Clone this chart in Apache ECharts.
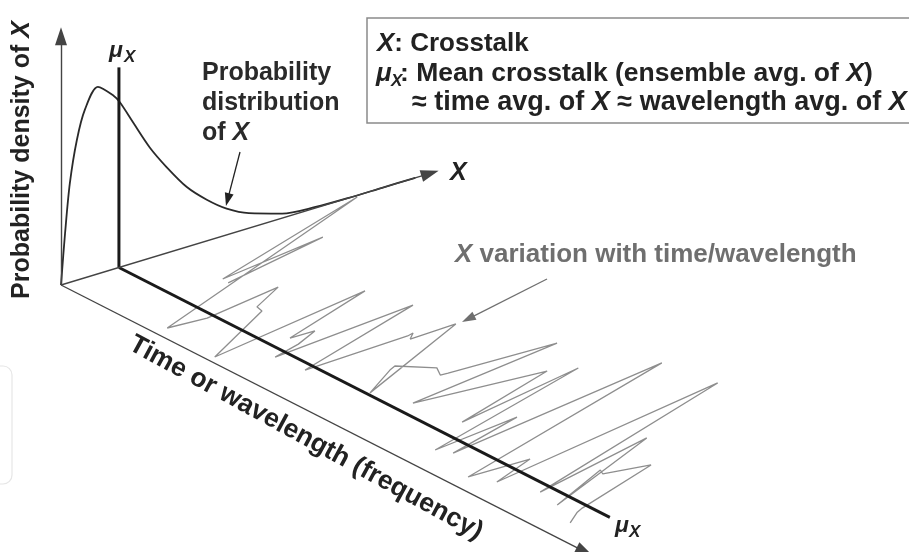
<!DOCTYPE html>
<html><head><meta charset="utf-8">
<script src="https://cdn.jsdelivr.net/npm/echarts@6/dist/echarts.min.js"></script>
<style>html,body{margin:0;padding:0;background:#fff}#c{width:909px;height:552px}</style>
</head><body><div id="c"></div>
<script>
// ---- data (normalised units: crosstalk X as fraction of X-axis length, time as fraction of time-axis length, density relative to peak) ----
const pdfCrosstalk = [0, 0.011, 0.024, 0.043, 0.065, 0.100, 0.141, 0.160, 0.196, 0.241, 0.286, 0.341, 0.395, 0.449, 0.509, 0.599, 0.690, 0.780, 0.870, 0.960];
const pdfDensity   = [0, 0.27, 0.53, 0.75, 0.90, 1.00, 0.93, 0.88, 0.75, 0.59, 0.46, 0.32, 0.22, 0.14, 0.08, 0.024, 0.005, 0, 0, 0];
const signalTime = [0.113,0.073,0.100,0.004,0.175,0.180,0.158,0.189,0.202,0.276,0.228,0.285,0.286,0.305,0.319,0.295,0.370,0.363,0.360,0.372,0.369,0.469,0.430,0.424,0.458,0.477,0.478,0.485,0.523,0.543,0.602,0.558,0.648,0.629,0.668,0.605,0.734,0.736,0.766,0.691,0.820,0.769,0.862,0.811,0.822,0.835,0.887,0.893,0.913];
const signalCrosstalk = [0.291,0.605,0.295,0.797,0.037,0.138,0.362,0.260,0.255,0.021,0.497,0.212,0.278,0.206,0.123,0.531,0.131,0.419,0.438,0.413,0.541,0.165,0.275,0.297,0.362,0.344,0.364,0.649,0.204,0.539,0.224,0.602,0.085,0.334,0.105,0.761,0.051,0.216,0.083,0.789,0.123,0.485,0.109,0.299,0.290,0.402,0.141,0.119,0.071];
const meanCrosstalk = 0.157;
const axisExtent = {density: 1.33, crosstalk: 1.0, time: 0.99, meanTop: 1.07, meanTime: 0.928};

// ---- oblique projection of (time, crosstalk, density) onto the page plane ----
const view = {ox: 61, oy: 285, tx: 529, ty: 269.3, xx: 369, xy: -111.7, hy: 187};
const proj = (t, x, d) => [view.ox + t * view.tx + x * view.xx, view.oy + t * view.ty + x * view.xy - d * view.hy];

const F = "'Liberation Sans', Arial, Helvetica, sans-serif";
const signalData = signalTime.map((t, i) => proj(t, signalCrosstalk[i], 0));
const pdfData = pdfCrosstalk.map((x, i) => proj(0, x, pdfDensity[i]));
const O = proj(0, 0, 0);
const mu0 = proj(0, meanCrosstalk, 0);

function arrow(a, b, color, width, size) {
  const ls = {color: color, width: width, type: 'solid'};
  return [{coord: a, symbol: 'none', lineStyle: ls}, {coord: b, symbol: 'triangle', symbolSize: size, lineStyle: ls, itemStyle: {color: color}}];
}

function txt(x, y, text, o) {
  o = o || {};
  const size = o.size || 25, color = o.color || '#222';
  return {
    type: 'text', x: x, y: y, rotation: o.rot || 0, z: 20,
    style: {
      text: text, fontSize: size, fontWeight: 'bold', fontStyle: o.italic ? 'italic' : 'normal', fontFamily: F,
      fill: color, align: o.align || 'left', verticalAlign: 'middle',
      rich: {i: {fontSize: size, fontWeight: 'bold', fontStyle: 'italic', fontFamily: F, fill: color}}
    }
  };
}

const chart = echarts.init(document.getElementById('c'), null, {renderer: 'canvas'});
chart.setOption({
  animation: false,
  backgroundColor: '#fff',
  grid: {left: 0, right: 0, top: 0, bottom: 0},
  xAxis: {type: 'value', min: 0, max: 909, show: false},
  yAxis: {type: 'value', min: 0, max: 552, inverse: true, show: false},
  series: [
    {type: 'line', data: signalData, symbol: 'none', silent: true, lineStyle: {color: '#8e8e8e', width: 1.3}, z: 2},
    {type: 'line', data: pdfData, symbol: 'none', silent: true, smooth: 0.3, lineStyle: {color: '#2a2a2a', width: 1.8}, z: 3},
    {type: 'line', data: [mu0, proj(0, meanCrosstalk, axisExtent.meanTop)], symbol: 'none', silent: true, lineStyle: {color: '#1a1a1a', width: 3}, z: 4},
    {type: 'line', data: [mu0, proj(axisExtent.meanTime, meanCrosstalk, 0)], symbol: 'none', silent: true, lineStyle: {color: '#1a1a1a', width: 3}, z: 4,
      markLine: {
        silent: true, animation: false, label: {show: false}, symbol: ['none', 'triangle'],
        lineStyle: {type: 'solid'},
        data: [
          arrow(O, proj(0, 0, axisExtent.density), '#444', 1.4, [12, 18]),
          arrow(O, proj(0, axisExtent.crosstalk, 0), '#444', 1.4, [12, 18]),
          arrow(O, proj(axisExtent.time, 0, 0), '#444', 1.4, [12, 18]),
          arrow([240, 152], [227.6, 199.7], '#222', 1.3, [9, 13]),
          arrow([547, 279], [468.2, 318.8], '#6f6f6f', 1.3, [9, 14])
        ]
      }
    }
  ],
  graphic: [
    {type: 'rect', z: 1, shape: {x: -30, y: 366, width: 42, height: 118, r: 9}, style: {fill: 'none', stroke: '#e6e6e6', lineWidth: 1.2}},
    {type: 'rect', z: 15, shape: {x: 367, y: 18, width: 560, height: 105}, style: {fill: '#fff', stroke: '#8a8a8a', lineWidth: 1.5}},
    txt(377, 44, '{i|X}: Crosstalk', {size: 26}),
    txt(376, 74, 'μ', {size: 26, italic: true}),
    txt(391, 81, 'X', {size: 17, italic: true}),
    txt(400, 74, ': Mean crosstalk (ensemble avg. of {i|X})', {size: 26.5}),
    txt(412, 103, '≈ time avg. of {i|X} ≈ wavelength avg. of {i|X}', {size: 27}),
    txt(22, 160, 'Probability density of {i|X}', {rot: Math.PI / 2, align: 'center'}),
    txt(202, 73, 'Probability', {color: '#2a2a2a'}),
    txt(202, 103, 'distribution', {color: '#2a2a2a'}),
    txt(202, 133, 'of {i|X}', {color: '#2a2a2a'}),
    txt(109, 51, 'μ', {size: 23, italic: true}),
    txt(124, 57, 'X', {size: 17, italic: true}),
    txt(450, 173, 'X', {italic: true}),
    txt(455, 255, '{i|X} variation with time/wavelength', {color: '#6f6f6f', size: 26}),
    txt(306, 438, 'Time or wavelength (frequency)', {rot: -0.5, align: 'center', size: 26.5}),
    txt(615, 526, 'μ', {size: 23, italic: true}),
    txt(629, 532, 'X', {size: 17, italic: true})
  ]
});
</script></body></html>
